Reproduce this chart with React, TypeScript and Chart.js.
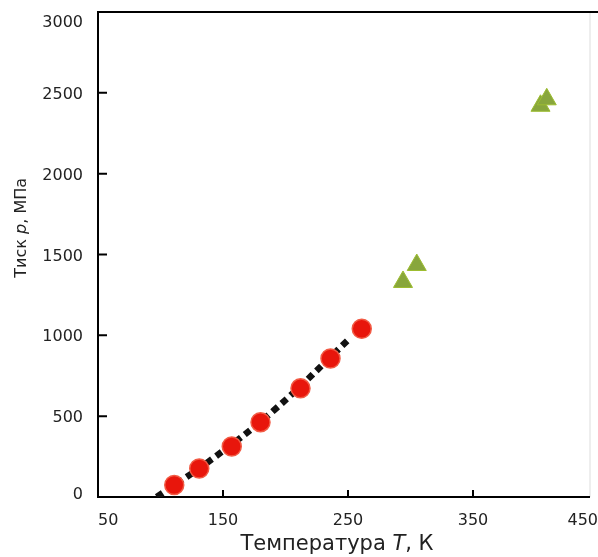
import React, { useEffect, useRef } from "react";
import { Chart, registerables } from "chart.js";
Chart.register(...registerables);

// Red circles (experimental)
const circleT = [111, 131, 157, 180, 212, 236, 261];
const circleP = [74, 176, 312, 463, 672, 857, 1041];
// Green triangles
const triangleT = [294, 305, 404, 409];
const triangleP = [1330, 1435, 2420, 2460];
// Dashed fit curve
const fitT = [97, 142, 191, 252];
const fitP = [0, 239, 538, 985];
// Axes
const xMin = 50;
const xMax = 450;
const xStep = 100;
const yMin = 0;
const yMax = 3000;
const yStep = 500;
const xTitle = ["Температура ", "T", ", К"];
const yTitle = ["Тиск ", "p", ", МПа"];

const FONT = "'DejaVu Sans', sans-serif";

function drawMixed(ctx: CanvasRenderingContext2D, parts: string[], size: number, cx: number, cy: number) {
  const fonts = parts.map((_, i) => (i === 1 ? `italic ${size}px ${FONT}` : `${size}px ${FONT}`));
  let total = 0;
  const widths = parts.map((p, i) => {
    ctx.font = fonts[i];
    const w = ctx.measureText(p).width;
    total += w;
    return w;
  });
  let x = cx - total / 2;
  ctx.textAlign = "left";
  ctx.textBaseline = "alphabetic";
  parts.forEach((p, i) => {
    ctx.font = fonts[i];
    ctx.fillText(p, x, cy);
    x += widths[i];
  });
}

const decor = {
  id: "decor",
  beforeDatasetsDraw(chart: any) {
    const { ctx, chartArea: a, scales } = chart;
    ctx.save();
    // faint right border
    ctx.strokeStyle = "#dddddd";
    ctx.lineWidth = 1;
    ctx.beginPath();
    ctx.moveTo(a.right - 8, a.top);
    ctx.lineTo(a.right - 8, a.bottom);
    ctx.stroke();
    ctx.strokeStyle = "#000";
    ctx.lineWidth = 2;
    ctx.beginPath();
    ctx.moveTo(a.left, a.top);
    ctx.lineTo(a.right, a.top);
    ctx.moveTo(a.left, a.top - 1);
    ctx.lineTo(a.left, a.bottom + 1);
    ctx.moveTo(a.left, a.bottom);
    ctx.lineTo(a.right - 8, a.bottom);
    scales.x.ticks.forEach((t: any) => {
      const px = scales.x.getPixelForValue(t.value);
      if (px <= a.left + 3 || px >= a.right - 3) return;
      ctx.moveTo(px, a.bottom);
      ctx.lineTo(px, a.bottom - 7);
    });
    scales.y.ticks.forEach((t: any) => {
      const py = scales.y.getPixelForValue(t.value);
      if (py >= a.bottom - 3 || py <= a.top + 3) return;
      ctx.moveTo(a.left, py);
      ctx.lineTo(a.left + 9, py);
    });
    ctx.stroke();
    ctx.restore();
  },
  afterDraw(chart: any) {
    const { ctx, chartArea: a, scales } = chart;
    ctx.save();
    ctx.fillStyle = "#222";
    ctx.font = `16px ${FONT}`;
    ctx.textBaseline = "alphabetic";
    // x tick labels, first and last aligned inward
    const xt = scales.x.ticks;
    xt.forEach((t: any, i: number) => {
      const px = scales.x.getPixelForValue(t.value);
      ctx.textAlign = i === 0 ? "left" : i === xt.length - 1 ? "right" : "center";
      ctx.fillText(String(t.value), px, a.bottom + 28);
    });
    // y tick labels, top one pushed inside
    const yt = scales.y.ticks;
    ctx.textAlign = "right";
    yt.forEach((t: any, i: number) => {
      const py = scales.y.getPixelForValue(t.value);
      let base = py + 6;
      if (i === yt.length - 1) base = py + 15;
      else if (i === 0) base = py + 2;
      ctx.fillText(String(t.value), a.left - 15, base);
    });
    drawMixed(ctx, xTitle, 21, a.left + (a.right - a.left) * 0.478, 550);
    ctx.translate(26, a.top + (a.bottom - a.top) * 0.445);
    ctx.rotate(-Math.PI / 2);
    drawMixed(ctx, yTitle, 16, 0, 0);
    ctx.restore();
  },
};

export default function App() {
  const ref = useRef<HTMLCanvasElement>(null);
  useEffect(() => {
    document.body.style.margin = "0";
    const chart = new Chart(ref.current as HTMLCanvasElement, {
      type: "scatter",
      data: {
        datasets: [
          {
            label: "fit",
            data: fitT.map((t, i) => ({ x: t, y: fitP[i] })),
            showLine: true,
            borderColor: "#111",
            borderWidth: 6.5,
            borderDash: [7, 5],
            tension: 0.4,
            pointRadius: 0,
            fill: false,
            order: 3,
          } as any,
          {
            label: "circles",
            data: circleT.map((t, i) => ({ x: t, y: circleP[i] })),
            pointRadius: 9.5,
            backgroundColor: "#e8160c",
            borderColor: "#f25a44",
            borderWidth: 1.5,
            order: 1,
          },
          {
            label: "triangles",
            data: triangleT.map((t, i) => ({ x: t, y: triangleP[i] })),
            pointStyle: "triangle",
            pointRadius: 11,
            backgroundColor: "#88a63c",
            borderColor: "#9dbd30",
            borderWidth: 1,
            order: 2,
          },
        ],
      },
      options: {
        animation: false,
        responsive: false,
        layout: { autoPadding: false, padding: { top: 12, right: 0, bottom: 0, left: 0 } },
        plugins: { legend: { display: false }, tooltip: { enabled: false } },
        scales: {
          x: {
            type: "linear",
            min: xMin,
            max: xMax,
            grid: { display: false },
            border: { display: false },
            ticks: { stepSize: xStep, display: false },
            afterFit: (s: any) => {
              s.height = 60;
              s.paddingLeft = 0;
              s.paddingRight = 0;
            },
          },
          y: {
            type: "linear",
            min: yMin,
            max: yMax,
            grid: { display: false },
            border: { display: false },
            ticks: { stepSize: yStep, display: false },
            afterFit: (s: any) => {
              s.width = 98;
              s.paddingTop = 0;
              s.paddingBottom = 0;
            },
          },
        },
      },
      plugins: [decor],
    });
    return () => chart.destroy();
  }, []);
  return (
    <div style={{ width: 598, height: 557, background: "#fff", overflow: "hidden" }}>
      <canvas ref={ref} width={598} height={557} style={{ display: "block" }} />
    </div>
  );
}
